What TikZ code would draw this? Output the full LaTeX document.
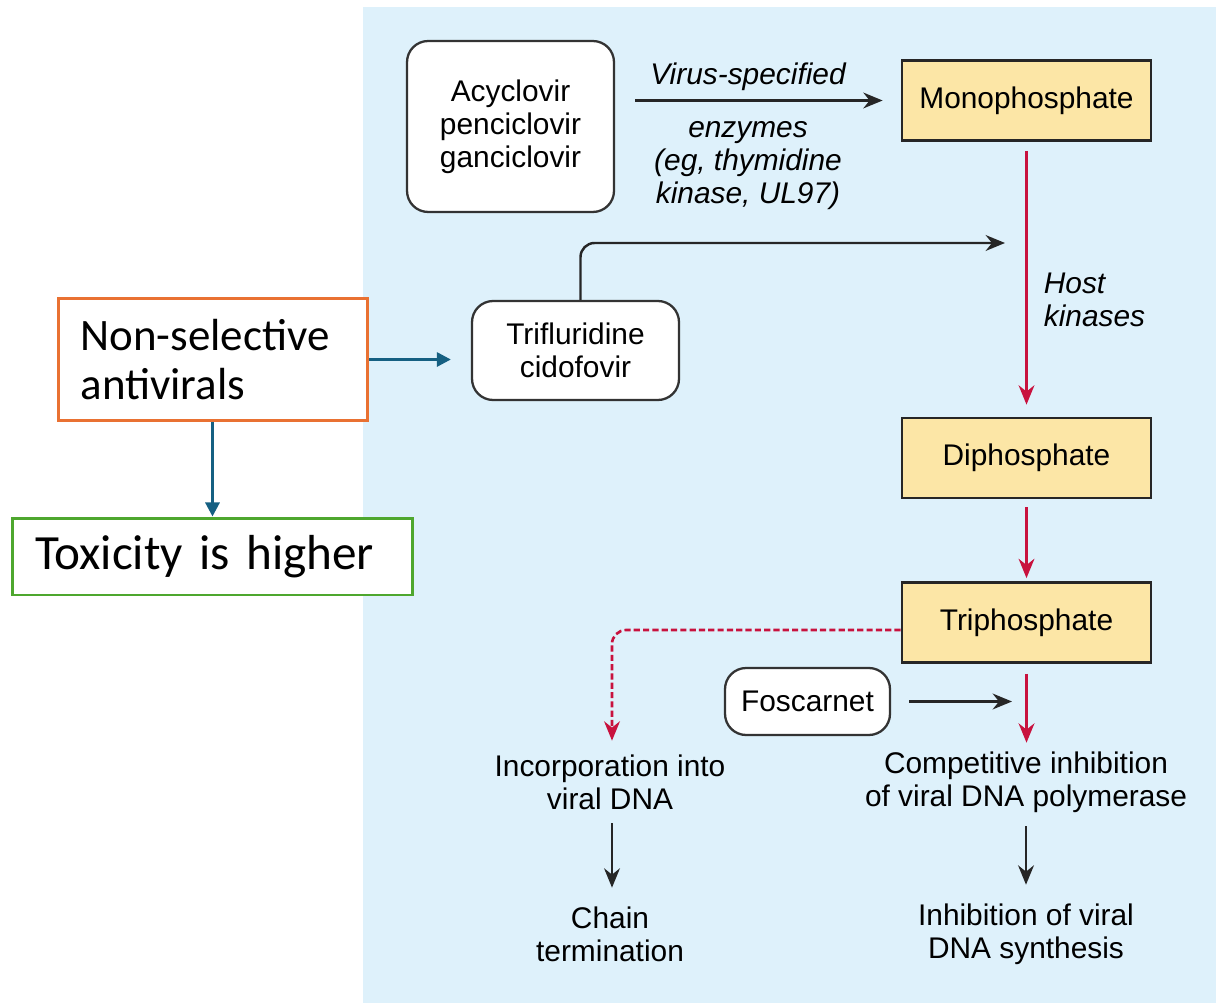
\documentclass[tikz,border=0pt]{standalone}
\usepackage{fontspec}
\setmainfont{Liberation Sans}
\newfontfamily\calibri[WordSpace=0.6]{Carlito}
\usetikzlibrary{arrows.meta}
\definecolor{panelblue}{HTML}{DEF1FB}
\definecolor{phosfill}{HTML}{FCE6A6}
\definecolor{hostred}{HTML}{C8123E}
\definecolor{notearrow}{HTML}{156082}
\definecolor{noteorange}{HTML}{E97132}
\definecolor{notegreen}{HTML}{4EA72E}
\tikzset{>={Stealth[length=11pt,width=9pt]}}
\tikzset{drug/.style={draw=black!80,line width=1.3pt,rounded corners=12pt,fill=white,align=center,font=\fontsize{17}{18.8}\selectfont}}
\tikzset{phos/.style={draw=black!85,line width=1.6pt,fill=phosfill,minimum width=4.98cm,minimum height=1.6cm,font=\fontsize{17}{18.8}\selectfont}}
\tikzset{txt/.style={align=center,inner sep=2pt,font=\fontsize{17}{18.8}\selectfont}}
\tikzset{flow arrow/.style={->,draw=black!85,line width=1.4pt}}
\tikzset{red arrow/.style={->,draw=hostred,line width=1.4pt}}
\tikzset{note/.style={draw,line width=1.7pt,fill=white,align=left,font=\calibri}}

\begin{document}
\begin{tikzpicture}[x=0.02cm,y=-0.02cm]
\useasboundingbox (0,0) rectangle (1216,1003);
\fill[panelblue] (363,7) rectangle (1216,1003);

% drugs and phosphates
\node[drug,minimum width=4.14cm,minimum height=3.42cm] (acy) at (510.5,126.5) {Acyclovir\\penciclovir\\ganciclovir};
\node[drug,minimum width=4.14cm,minimum height=1.98cm] (trif) at (575.5,350.5) {Trifluridine\\cidofovir};
\node[drug,minimum width=3.3cm,minimum height=1.34cm] (fos) at (807.5,701.5) {Foscarnet};
\node[phos] (mono) at (1026.5,100.5) {Monophosphate};
\node[phos] (di) at (1026.5,458) {Diphosphate};
\node[phos] (tri) at (1026.5,622.5) {Triphosphate};

\node[txt,font=\fontsize{17}{18.8}\selectfont\itshape] (virus) at (748,77) {Virus-specified};
\node[txt,font=\fontsize{17}{18.8}\selectfont\itshape] (enz) at (748,166) {enzymes\\(eg, thymidine\\kinase, UL97)};
\node[txt,anchor=west,align=left,font=\fontsize{17}{18.8}\selectfont\itshape] (host) at (1040,300) {Host\\kinases};

\node[txt] (inc) at (610,782) {Incorporation into\\viral DNA};
\node[txt] (comp) at (1026,782) {Competitive inhibition\\of viral DNA polymerase};
\node[txt] (chain) at (610,934) {Chain\\termination};
\node[txt] (inh) at (1026,934) {Inhibition of viral\\DNA synthesis};

\coordinate (join) at (1005,243);
\coordinate (fosj) at (1012,701.5);

\draw[flow arrow,shorten <=0.4cm,shorten >=0.36cm] (acy.east |- mono.west) -- (mono.west);
\draw[flow arrow,rounded corners=8pt] ([xshift=0.1cm]trif.north) |- (join);
\draw[red arrow,shorten <=0.18cm,shorten >=0.24cm] (mono.south) -- (di.north);
\draw[red arrow,shorten <=0.16cm,shorten >=0.06cm] (di.south) -- (tri.north);
\draw[red arrow,dashed,dash pattern=on 3.5pt off 1.8pt,line width=1.5pt,rounded corners=8pt] ([yshift=-0.15cm]tri.west) -| ([xshift=0.04cm,yshift=0.2cm]inc.north);
\draw[red arrow,shorten <=0.2cm,shorten >=0.1cm] (tri.south) -- (tri.south |- comp.north);
\draw[flow arrow,shorten <=0.36cm] (fos.east) -- (fosj);
\draw[flow arrow,shorten <=0.2cm,shorten >=0.3cm] ([xshift=0.04cm]inc.south) -- ([xshift=0.04cm]chain.north);
\draw[flow arrow,shorten <=0.2cm,shorten >=0.3cm] (comp.south) -- (inh.north);

% notes on the left
\node[note,draw=noteorange,minimum width=6.2cm,minimum height=2.46cm,text width=5.3cm,inner xsep=0.44cm,font=\calibri\fontsize{25.6}{27.9}\selectfont] (nonsel) at (213,359.5) {Non-selective\\antivirals};
\node[note,draw=notegreen,minimum width=8.02cm,minimum height=1.54cm,text width=7.1cm,inner xsep=0.46cm,font=\calibri\fontsize{28}{30}\selectfont] (tox) at (212.5,556.5) {Toxicity is higher};

\draw[->,>={Triangle[length=8pt,width=8pt]},notearrow,line width=1.7pt,shorten >=0.4cm] (nonsel.east) -- (trif.west |- nonsel.east);
\draw[->,>={Triangle[length=8pt,width=8pt]},notearrow,line width=1.7pt] (nonsel.south -| tox.north) -- (tox.north);
\end{tikzpicture}
\end{document}
